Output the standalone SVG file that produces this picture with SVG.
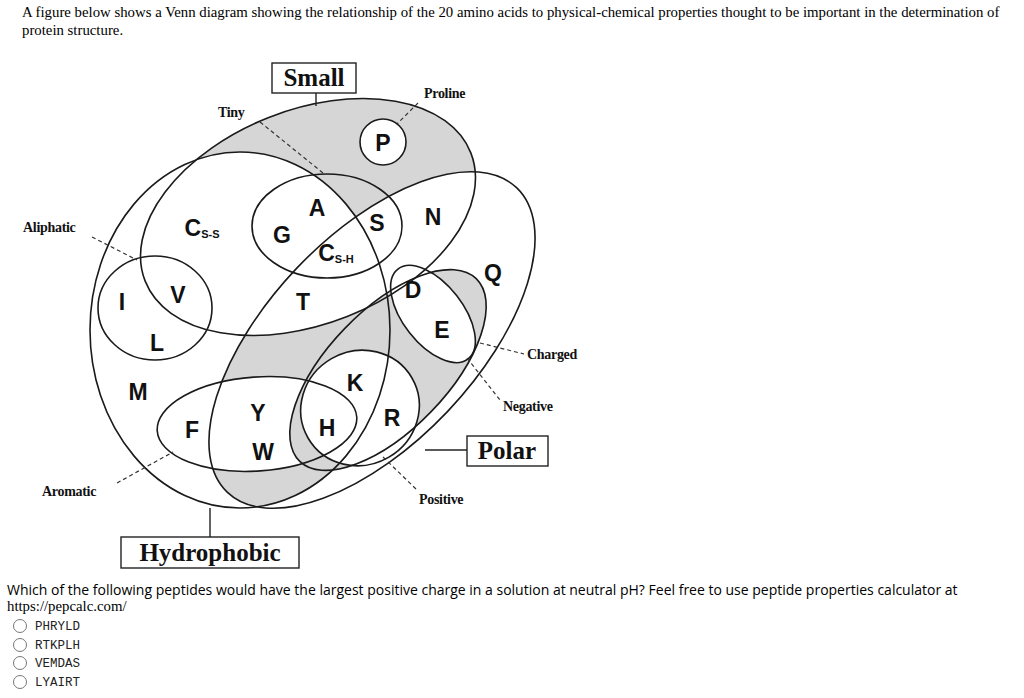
<svg xmlns="http://www.w3.org/2000/svg" width="1024" height="698" viewBox="0 0 1024 698">
<style>
.o{fill:none;stroke:#1a1a1a;stroke-width:1.6}
.g{fill:#d6d6d6}
.l{font-family:"Liberation Sans",Arial,sans-serif;font-weight:bold;font-size:23px;text-anchor:middle;fill:#111}
.sub{font-size:11px}
.s{font-family:"Liberation Serif",serif;font-weight:bold;font-size:14px;fill:#111;letter-spacing:-0.3px}
.b{font-family:"Liberation Serif",serif;font-weight:bold;font-size:25px;fill:#111;text-anchor:middle}
.d{fill:none;stroke:#333;stroke-width:1.2;stroke-dasharray:4 3}
.c{fill:none;stroke:#222;stroke-width:1.4}
.t{font-family:"Liberation Serif",serif;font-size:14.8px;fill:#000}
.q{font-family:"Open Sans",sans-serif;font-size:14px;fill:#000}
.m{font-family:"Liberation Mono",monospace;font-size:12.5px;fill:#222}
.r{fill:#fff;stroke:#777;stroke-width:1}
</style>
<defs>
<ellipse id="small" cx="308" cy="217" rx="175" ry="107" transform="rotate(-21.5 308 217)"/>
<ellipse id="hydro" cx="240" cy="330" rx="150" ry="178"/>
<ellipse id="polar" cx="372" cy="340" rx="210" ry="104" transform="rotate(-46.5 372 340)"/>
<circle id="pro" cx="383" cy="142" r="23"/>
<ellipse id="arom" cx="257" cy="424" rx="100" ry="47" transform="rotate(-4 257 424)"/>
<ellipse id="chg" cx="388" cy="370" rx="127" ry="60" transform="rotate(-46 388 370)"/>
<ellipse id="neg" cx="433" cy="314" rx="57" ry="30" transform="rotate(52 433 314)"/>
<ellipse id="pos" cx="360" cy="408" rx="60" ry="57" transform="rotate(-30 360 408)"/>
<clipPath id="cHydro"><use href="#hydro"/></clipPath>
<mask id="mA"><rect width="1024" height="698" fill="#fff"/><use href="#hydro" fill="#000"/><use href="#polar" fill="#000"/><use href="#pro" fill="#000"/></mask>
<mask id="mB"><rect width="1024" height="698" fill="#fff"/><use href="#small" fill="#000"/><use href="#arom" fill="#000"/><use href="#pos" fill="#000"/></mask>
<mask id="mC"><rect width="1024" height="698" fill="#fff"/><use href="#neg" fill="#000"/><use href="#pos" fill="#000"/></mask>
</defs>
<rect width="1024" height="698" fill="#fff"/>
<text class="t" x="22" y="17">A figure below shows a Venn diagram showing the relationship of the 20 amino acids to physical-chemical properties thought to be important in the determination of</text>
<text class="t" x="22" y="35">protein structure.</text>
<g id="shading">
<use href="#small" class="g" mask="url(#mA)"/>
<g clip-path="url(#cHydro)"><use href="#polar" class="g" mask="url(#mB)"/></g>
<use href="#chg" class="g" mask="url(#mC)"/>
</g>
<g id="sets">
<use id="set-small" href="#small" class="o"/>
<use id="set-hydrophobic" href="#hydro" class="o"/>
<use id="set-polar" href="#polar" class="o"/>
<use id="set-proline" href="#pro" class="o"/>
<ellipse id="set-aliphatic" class="o" cx="155" cy="308" rx="57" ry="52"/>
<ellipse id="set-tiny" class="o" cx="327" cy="226" rx="75" ry="52"/>
<use id="set-aromatic" href="#arom" class="o"/>
<use id="set-charged" href="#chg" class="o"/>
<use id="set-negative" href="#neg" class="o"/>
<use id="set-positive" href="#pos" class="o"/>
</g>
<g id="connectors">
<line class="c" x1="316" y1="93" x2="316" y2="106"/>
<line class="c" x1="425" y1="450" x2="467" y2="450"/>
<line class="c" x1="210" y1="508" x2="210" y2="537"/>
<line class="d" x1="260" y1="122" x2="323" y2="173"/>
<line class="d" x1="418" y1="103" x2="397" y2="124"/>
<line class="d" x1="92" y1="237" x2="137" y2="260"/>
<line class="d" x1="480" y1="343" x2="524" y2="354"/>
<line class="d" x1="467" y1="358" x2="500" y2="400"/>
<line class="d" x1="383" y1="457" x2="417" y2="490"/>
<line class="d" x1="117" y1="483" x2="173" y2="452"/>
</g>
<g id="labels">
<g id="box-small"><rect x="272" y="63" width="84" height="30" fill="#fff" stroke="#222" stroke-width="1.4"/><text class="b" x="314" y="86">Small</text></g>
<g id="box-polar"><rect x="467" y="436" width="81" height="30" fill="#fff" stroke="#222" stroke-width="1.4"/><text class="b" x="507" y="459">Polar</text></g>
<g id="box-hydro"><rect x="121" y="537" width="178" height="31" fill="#fff" stroke="#222" stroke-width="1.4"/><text class="b" x="210" y="561">Hydrophobic</text></g>
<text class="s" x="218" y="117">Tiny</text>
<text class="s" x="424" y="98">Proline</text>
<text class="s" x="23" y="232">Aliphatic</text>
<text class="s" x="527" y="359">Charged</text>
<text class="s" x="503" y="411">Negative</text>
<text class="s" x="419" y="504">Positive</text>
<text class="s" x="42" y="496">Aromatic</text>
</g>
<g id="aminoacids">
<text class="l" x="383" y="151">P</text>
<text class="l" x="317" y="216">A</text>
<text class="l" x="282" y="243">G</text>
<text class="l" x="377" y="231">S</text>
<text class="l" x="202" y="236">C<tspan class="sub" dy="2">S-S</tspan></text>
<text class="l" x="336" y="261">C<tspan class="sub" dy="2">S-H</tspan></text>
<text class="l" x="433" y="225">N</text>
<text class="l" x="493" y="281">Q</text>
<text class="l" x="122" y="310">I</text>
<text class="l" x="178" y="303">V</text>
<text class="l" x="157" y="351">L</text>
<text class="l" x="303" y="310">T</text>
<text class="l" x="413" y="298">D</text>
<text class="l" x="442" y="338">E</text>
<text class="l" x="138" y="400">M</text>
<text class="l" x="355" y="391">K</text>
<text class="l" x="258" y="421">Y</text>
<text class="l" x="192" y="438">F</text>
<text class="l" x="327" y="436">H</text>
<text class="l" x="392" y="426">R</text>
<text class="l" x="263" y="460">W</text>
</g>
<g id="question">
<text class="q" x="7" y="595">Which of the following peptides would have the largest positive charge in a solution at neutral pH? Feel free to use peptide properties calculator at</text>
<text class="t" x="7" y="611">https://pepcalc.com/</text>
<circle class="r" cx="20" cy="626" r="6.5"/><text class="m" x="35" y="630">PHRYLD</text>
<circle class="r" cx="20" cy="645" r="6.5"/><text class="m" x="35" y="649">RTKPLH</text>
<circle class="r" cx="20" cy="663" r="6.5"/><text class="m" x="35" y="667">VEMDAS</text>
<circle class="r" cx="20" cy="682" r="6.5"/><text class="m" x="35" y="686">LYAIRT</text>
</g>
</svg>
